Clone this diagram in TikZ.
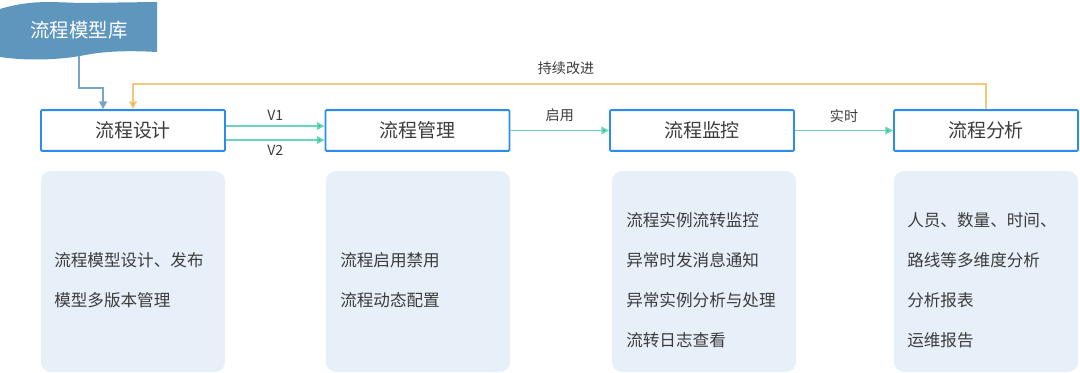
\documentclass[tikz,border=0pt]{standalone}
\usepackage{fontspec}
\setmainfont{Noto Sans CJK SC}
\usepackage{tikz}
\usetikzlibrary{arrows.meta}
\definecolor{boxblue}{HTML}{2A8CF0}
\definecolor{flowgreen}{HTML}{6AD6B8}
\definecolor{tipgreen}{HTML}{1DB488}
\definecolor{loopline}{HTML}{F2C879}
\definecolor{looptip}{HTML}{EEA62E}
\definecolor{libblue}{HTML}{5E96BD}
\definecolor{panelfill}{HTML}{E7EFF8}
\definecolor{txt}{HTML}{3C3C3C}

\begin{document}
\begin{tikzpicture}[x=0.025cm, y=-0.025cm,
  stage/.style={draw=boxblue, line width=1.3pt, rounded corners=0.8pt, minimum width=4.6cm, minimum height=1.02cm, inner sep=0pt, text=txt, font=\fontsize{13.5}{16}\selectfont},
  panel/.style={fill=panelfill, rounded corners=2.5mm, minimum width=4.6cm, minimum height=5.02cm, inner sep=0pt},
  note/.style={anchor=west, align=left, inner sep=0pt, text=txt, font=\fontsize{11.8}{28.4}\selectfont},
  flow/.style={-{Triangle[length=5.5pt, width=5.5pt, fill=tipgreen]}, draw=flowgreen, line width=1.2pt},
  loop/.style={-{Triangle[length=5.5pt, width=5.5pt, fill=looptip]}, draw=loopline, line width=1.2pt},
  feed/.style={-{Triangle[length=5.5pt, width=5.5pt]}, draw=libblue!85, line width=1.1pt},
  tag/.style={inner sep=1pt, text=txt, font=\fontsize{10}{12}\selectfont}]
\useasboundingbox (0,0) rectangle (1080,373);
% model library banner
\fill[libblue] (0,9) .. controls (30,0) and (50,2) .. (80,3) -- (157,2) -- (157,52)
  .. controls (120,50) and (100,52) .. (80,56) .. controls (50,61) and (20,60) .. (0,57) -- cycle;
\node[text=white, font=\fontsize{13.8}{16}\selectfont] (lib) at (79,30) {流程模型库};
\coordinate (libout) at (79,56);
% stages
\node[stage] (design)  at (133,130.5) {流程设计};
\node[stage] (manage)  at (417.5,130.5) {流程管理};
\node[stage] (monitor) at (702,130.5) {流程监控};
\node[stage] (analyse) at (986,130.5) {流程分析};
\coordinate (bend) at (79,88);
\draw[feed] (libout) -- (bend) -| ([xshift=-21.3pt]design.north);
\draw[loop] (analyse.north) |- (560,84) -| (design.north);
\node[tag] at (566,68) {持续改进};
\draw[flow] ([yshift=3.2pt]design.east) -- node[tag, above=2pt]{V1} ([yshift=3.2pt]manage.west);
\draw[flow] ([yshift=-6.8pt]design.east) -- node[tag, below=2pt]{V2} ([yshift=-6.8pt]manage.west);
\draw[flow] (manage) -- node[tag, above=5pt]{启用} (monitor);
\draw[flow] (monitor) -- node[tag, above=4pt]{实时} (analyse);
% detail panels
\node[panel] (p1) at (133,271.5) {};
\node[panel] (p2) at (418,271.5) {};
\node[panel] (p3) at (704,271.5) {};
\node[panel] (p4) at (986,271.5) {};
\node[note] (n1) at (54,280) {流程模型设计、发布\\模型多版本管理};
\node[note] (n2) at (340,280) {流程启用禁用\\流程动态配置};
\node[note] (n3) at (626,280) {流程实例流转监控\\异常时发消息通知\\异常实例分析与处理\\流转日志查看};
\node[note] (n4) at (907,280) {人员、数量、时间、\\路线等多维度分析\\分析报表\\运维报告};
\end{tikzpicture}
\end{document}
